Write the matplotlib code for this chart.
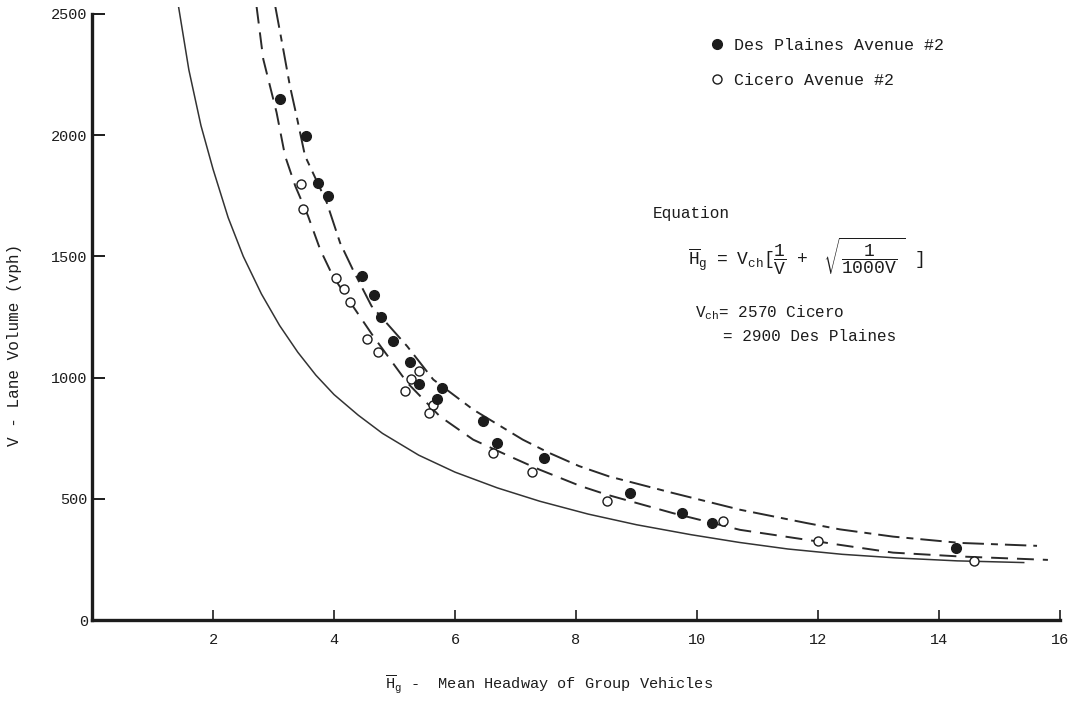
import matplotlib
matplotlib.use("Agg")
import matplotlib.pyplot as plt

# Data
# Des Plaines Avenue #2 (filled circles)
des_plaines_h = [3.11, 3.54, 3.73, 3.90, 4.47, 4.66, 4.77, 4.97, 5.26, 5.40, 5.71, 5.79,
                 6.47, 6.70, 7.47, 8.89, 9.75, 10.25, 14.28]
des_plaines_v = [2149, 1996, 1801, 1748, 1419, 1339, 1250, 1150, 1063, 974, 912, 956,
                 822, 732, 668, 522, 443, 400, 296]

# Cicero Avenue #2 (open circles)
cicero_h = [3.46, 3.49, 4.03, 4.16, 4.27, 4.55, 4.73, 5.40, 5.28, 5.17, 5.64, 5.57,
            6.63, 7.28, 8.52, 10.43, 12.00, 14.58]
cicero_v = [1800, 1695, 1411, 1367, 1310, 1161, 1107, 1027, 996, 944, 885, 853,
            690, 610, 489, 410, 324, 244]

# Fitted curves
solid_h = [1.43, 1.60, 1.80, 2.00, 2.25, 2.50, 2.80, 3.10, 3.40, 3.70, 4.00, 4.40,
           4.80, 5.40, 6.00, 6.70, 7.40, 8.20, 9.00, 9.90, 10.70, 11.50, 12.40,
           13.30, 14.30, 15.40]
solid_v = [2530, 2270, 2040, 1860, 1660, 1500, 1345, 1215, 1105, 1010, 930, 845,
           770, 680, 610, 545, 490, 437, 393, 352, 320, 293, 271, 256, 244, 237]

cicero_curve_h = [2.72, 2.83, 2.94, 3.05, 3.19, 3.36, 3.57, 3.77, 3.98, 4.27, 4.65,
                  5.21, 5.75, 6.30, 6.86, 7.40, 8.07, 8.51, 9.60, 10.71, 11.81,
                  12.36, 13.24, 14.35, 15.80]
cicero_curve_v = [2530, 2314, 2204, 2094, 1915, 1790, 1667, 1529, 1419, 1310, 1170,
                  979, 840, 744, 680, 620, 553, 517, 441, 372, 331, 310, 278, 262, 248]

desp_curve_h = [3.03, 3.16, 3.27, 3.38, 3.52, 3.88, 4.10, 4.31, 4.62, 5.21, 5.64,
                6.30, 7.12, 7.55, 8.05, 8.55, 9.60, 10.71, 11.81, 12.36, 13.24,
                14.35, 15.62]
desp_curve_v = [2530, 2355, 2204, 2080, 1915, 1722, 1556, 1446, 1295, 1129, 992,
                868, 744, 690, 635, 592, 524, 455, 400, 374, 344, 318, 306]

x_ticks = [2, 4, 6, 8, 10, 12, 14, 16]
y_ticks = [0, 500, 1000, 1500, 2000, 2500]

mono = "Liberation Mono"
plt.rcParams["font.family"] = [mono, "DejaVu Sans"]
plt.rcParams["mathtext.fontset"] = "custom"
plt.rcParams["mathtext.rm"] = mono
plt.rcParams["mathtext.it"] = mono
ink = "#1c1c1c"

fig = plt.figure(figsize=(10.79, 7.06), dpi=100)
ax = fig.add_axes([0.0853, 0.1218, 0.8971, 0.8687])

# Curves
ax.plot(solid_h, solid_v, color="#333333", lw=1.1, zorder=2)
ax.plot(cicero_curve_h, cicero_curve_v, color="#2a2a2a", lw=1.4, dashes=(8.7, 4.6), zorder=2)
ax.plot(desp_curve_h, desp_curve_v, color="#2a2a2a", lw=1.4,
        dashes=(11, 3.6, 3.6, 3.6), zorder=2)

# Observations
ax.plot(des_plaines_h, des_plaines_v, "o", ms=7, color=ink, mec=ink,
        ls="none", zorder=4, label="Des Plaines Avenue #2")
ax.plot(cicero_h, cicero_v, "o", ms=6.5, mfc="white", mec=ink, mew=1.0,
        ls="none", zorder=3, label="Cicero Avenue #2")

# Axes
ax.set_xlim(0, 16)
ax.set_ylim(0, 2530)
ax.spines["top"].set_visible(False)
ax.spines["right"].set_visible(False)
for s in ["left", "bottom"]:
    ax.spines[s].set_linewidth(2.4)
    ax.spines[s].set_color(ink)
ax.spines["left"].set_bounds(0, 2500)
ax.set_xticks(x_ticks)
ax.set_xticklabels([str(t) for t in x_ticks])
ax.set_yticks(y_ticks)
ax.set_yticklabels([str(t) for t in y_ticks])
ax.tick_params(axis="x", direction="in", length=7, width=1.2, pad=9,
               labelsize=11, colors=ink)
ax.tick_params(axis="y", direction="in", length=9, width=1.4, pad=3,
               labelsize=11, colors=ink)

# Axis titles
fig.text(0.0139, 0.511, "V - Lane Volume (vph)", rotation=90, fontsize=11.5,
         color=ink, ha="center", va="center")
fig.text(0.509, 0.014, r"$\overline{\mathrm{H}}_{\mathrm{g}}$ -  Mean Headway of Group Vehicles",
         fontsize=11, color=ink, ha="center", va="bottom")

# Legend
ax.legend(loc="upper left", bbox_to_anchor=(0.651, 0.958), bbox_transform=fig.transFigure,
          frameon=False, fontsize=12, handlelength=0.8, handletextpad=0.6,
          labelspacing=1.2, borderpad=0, labelcolor=ink)

# Equation block
fig.text(0.605, 0.698, "Equation", fontsize=11.5, color=ink, ha="left", va="center")
fig.text(0.6376, 0.637,
         r"$\overline{\mathrm{H}}_{\mathrm{g}}\ \ =\ \ \mathrm{V}_{\mathrm{ch}}[\dfrac{1}{\mathrm{V}}\ \ +\ \ \ \ \sqrt{\dfrac{1}{1000\mathrm{V}}\ }\ \ \ ]$",
         fontsize=13, color=ink, ha="left", va="center")
fig.text(0.644, 0.5567, r"$\mathrm{V}_{\mathrm{ch}}$= 2570 Cicero", fontsize=11.5,
         color=ink, ha="left", va="center")
fig.text(0.670, 0.524, "= 2900 Des Plaines", fontsize=11.5, color=ink,
         ha="left", va="center")

plt.savefig("out.png", dpi=100)
plt.close()
